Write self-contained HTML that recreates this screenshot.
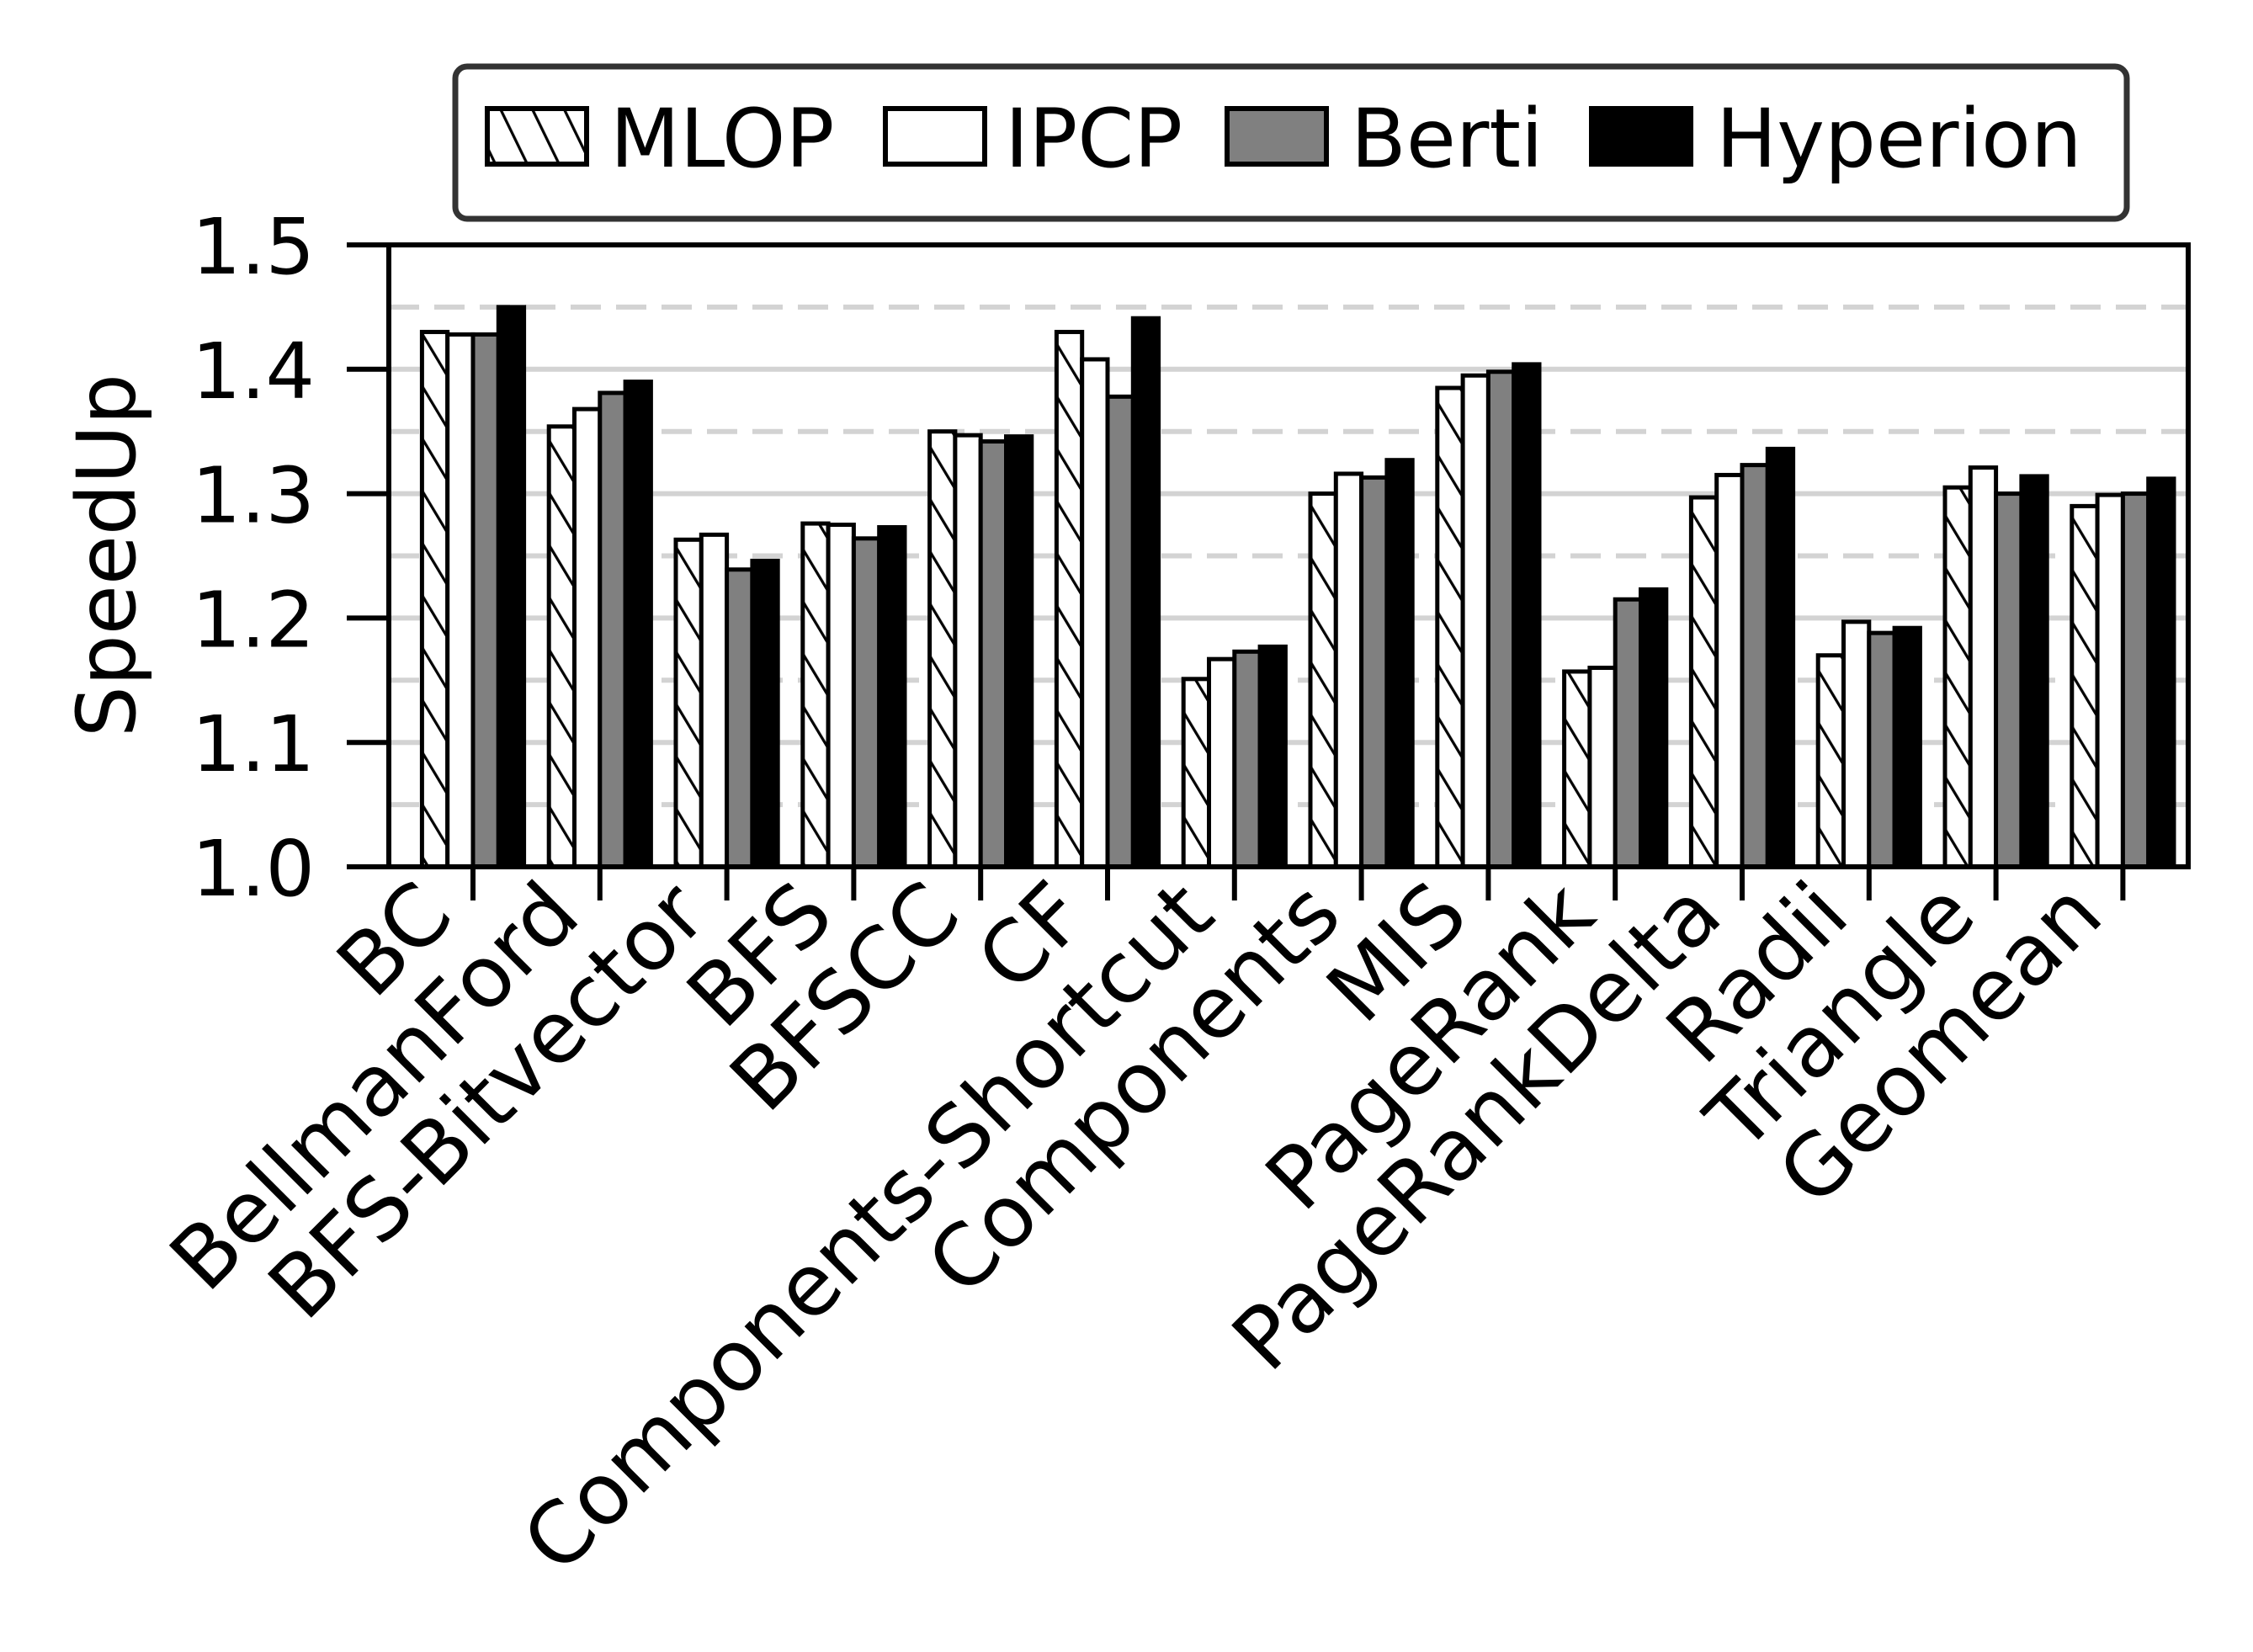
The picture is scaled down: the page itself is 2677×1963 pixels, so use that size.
<!DOCTYPE html>
<html><head><meta charset="utf-8"><style>
html,body{margin:0;padding:0;background:#fff}
svg{display:block}
text{font-family:"DejaVu Sans","Liberation Sans",sans-serif;fill:#000}
</style></head><body>
<svg id="chart" width="2677" height="1963" viewBox="0 0 2677 1963" xmlns="http://www.w3.org/2000/svg">
<defs>
<pattern id="hatch" patternUnits="userSpaceOnUse" width="32" height="32" patternTransform="rotate(-31)">
<rect width="32" height="32" fill="#fff"/>
<line x1="0" y1="0" x2="0" y2="32" stroke="#000" stroke-width="6.5"/>
</pattern>
<pattern id="hatchL" patternUnits="userSpaceOnUse" width="34" height="34" patternTransform="rotate(-26)">
<rect width="34" height="34" fill="#fff"/>
<line x1="0" y1="0" x2="0" y2="34" stroke="#000" stroke-width="6.5"/>
</pattern>
</defs>
<g id="grid"></g>
<g id="bars"></g>
<g id="axes"></g>
<g id="legend"></g>
<text x="0" y="0" font-size="96" text-anchor="middle" transform="translate(160,660) rotate(-90)">SpeedUp</text>
</svg>
<script>
const categories = ["BC","BellmanFord","BFS-Bitvector","BFS","BFSCC","CF","Components-Shortcut","Components","MIS","PageRank","PageRankDelta","Radii","Triangle","Geomean"];
const mlop =     [1.430,1.354,1.263,1.276,1.350,1.430,1.151,1.300,1.385,1.157,1.297,1.170,1.305,1.290];
const ipcp =     [1.428,1.368,1.267,1.275,1.347,1.408,1.167,1.316,1.395,1.160,1.315,1.197,1.321,1.299];
const berti =    [1.428,1.381,1.239,1.264,1.342,1.378,1.173,1.313,1.398,1.215,1.323,1.188,1.300,1.300];
const hyperion = [1.450,1.390,1.246,1.273,1.346,1.441,1.177,1.327,1.404,1.223,1.336,1.192,1.314,1.312];
const seriesNames = ["MLOP","IPCP","Berti","Hyperion"];
const yTicks = ["1.0","1.1","1.2","1.3","1.4","1.5"];
const yMin = 1.0, yMax = 1.5;

const NS = "http://www.w3.org/2000/svg";
const L = 462, R = 2600, T = 291, B = 1030;
const firstX = 562, step = 150.8, barW = 30.3;
const y = v => B - (v - yMin) / (yMax - yMin) * (B - T);
const xc = i => firstX + i * step;
function mk(tag, attrs, parent){const e=document.createElementNS(NS,tag);for(const k in attrs)e.setAttribute(k,attrs[k]);parent.appendChild(e);return e;}

const grid = document.getElementById('grid');
for (let k = 1; k < 10; k++) {
  const v = yMin + k * 0.05;
  const dashed = k % 2 === 1;
  const ln = mk('line',{x1:L,x2:R,y1:y(v),y2:y(v),stroke:'#d3d3d3','stroke-width':6},grid);
  if (dashed) ln.setAttribute('stroke-dasharray','36 18');
  
  
}

const fills = ['url(#hatch)','#fff','#808080','#000'];
const series = [mlop, ipcp, berti, hyperion];
const barsG = document.getElementById('bars');
categories.forEach((c, i) => {
  series.forEach((s, j) => {
    const x0 = xc(i) + (j - 2) * barW;
    const r = mk('rect',{x:x0,y:y(s[i]),width:barW,height:B - y(s[i]),fill:fills[j],stroke:'#000','stroke-width':5},barsG);
    
    
  });
});

const axes = document.getElementById('axes');
const frame = mk('rect',{x:L,y:T,width:R-L,height:B-T,fill:'none',stroke:'#000','stroke-width':6},axes);


yTicks.forEach(t => {
  const v = parseFloat(t);
  const tk = mk('line',{x1:L-50,x2:L,y1:y(v),y2:y(v),stroke:'#000','stroke-width':6},axes);
  
  
  const tx = mk('text',{x:L-88,y:y(v)+34,'font-size':92,'text-anchor':'end'},axes);
  tx.textContent = t;
  
  
});
categories.forEach((c, i) => {
  const tk = mk('line',{x1:xc(i),x2:xc(i),y1:B,y2:B+40,stroke:'#000','stroke-width':6},axes);
  
  
  const ax = xc(i) - 20, ay = B + 62;
  const tx = mk('text',{x:0,y:0,'font-size':101,'text-anchor':'end',transform:`translate(${ax},${ay}) rotate(-45)`},axes);
  tx.textContent = c;
  
  
});

const lg = document.getElementById('legend');
const box = mk('rect',{x:541,y:79,width:1986,height:181,rx:14,fill:'#fff',stroke:'#333','stroke-width':7},lg);


const patchX = [579,1052,1458,1891];
const textX = [725,1194,1605,2039];
const legendFills = ['url(#hatchL)','#fff','#808080','#000'];
seriesNames.forEach((n, j) => {
  const p = mk('rect',{x:patchX[j],y:129,width:118,height:66,fill:legendFills[j],stroke:'#000','stroke-width':6},lg);
  
  
  const t = mk('text',{x:textX[j],y:198,'font-size':96},lg);
  t.textContent = n;
  
  
});
</script>
</body></html>
